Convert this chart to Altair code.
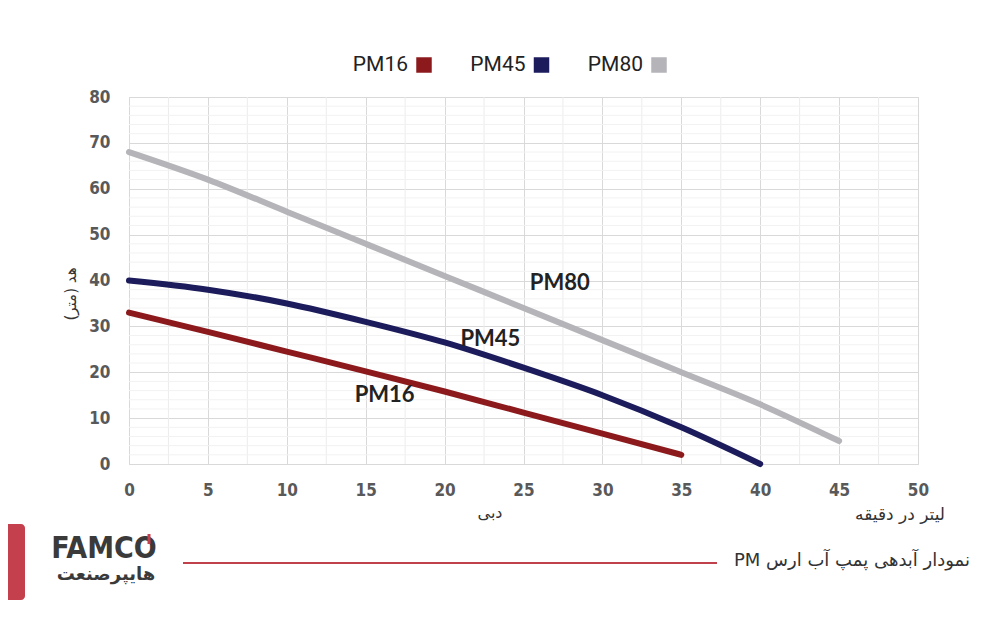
import altair as alt
import pandas as pd

# ---- data ----
series = ["PM16", "PM45", "PM80"]
colors = ["#8c1a1d", "#1c1c5c", "#b4b4b9"]

flow_pm16 = [0, 5, 10, 15, 20, 25, 30, 35]
head_pm16 = [33, 28.8, 24.5, 20.2, 15.8, 11.2, 6.6, 2]
flow_pm45 = [0, 5, 10, 15, 20, 25, 30, 35, 40]
head_pm45 = [40, 38, 35, 31, 26.5, 21, 15, 8, 0]
flow_pm80 = [0, 5, 10, 15, 20, 25, 30, 35, 40, 45]
head_pm80 = [68, 62, 55, 48, 41, 34, 27, 20, 13, 5]

label_names = ["PM16", "PM45", "PM80"]
label_x = [16.2, 22.9, 27.3]
label_y = [15.1, 27.3, 39.5]

x_ticks = list(range(0, 51, 5))
y_ticks = list(range(0, 81, 10))
minor_x = [2.5 + 5 * i for i in range(10)]
minor_y = [v for v in range(0, 81, 2) if v % 10 != 0]

x_title = "دبی"
x_unit = "لیتر در دقیقه"
y_title = "هد (متر)"
footer_title = "نمودار آبدهی پمپ آب ارس PM"
logo_main = "FAMCO"
logo_sub = "هایپرصنعت"

# ---- tables ----
rows = []
for f, h in zip(flow_pm16, head_pm16):
    rows.append({"flow": f, "head": h, "series": "PM16"})
for f, h in zip(flow_pm45, head_pm45):
    rows.append({"flow": f, "head": h, "series": "PM45"})
for f, h in zip(flow_pm80, head_pm80):
    rows.append({"flow": f, "head": h, "series": "PM80"})
df = pd.DataFrame(rows)
labels_df = pd.DataFrame({"name": label_names, "flow": label_x, "head": label_y})
minor_x_df = pd.DataFrame({"v": minor_x})
minor_y_df = pd.DataFrame({"v": minor_y})
one = pd.DataFrame({"a": [0]})

NUM_FONT = "Liberation Sans Narrow, DejaVu Sans Condensed, Arial Narrow, sans-serif"
FA_FONT = "DejaVu Sans, Noto Sans, sans-serif"
RLE, PDF = "\u202b", "\u202c"

xs = alt.Scale(domain=[0, 50], nice=False)
ys = alt.Scale(domain=[0, 80], nice=False)

minor_v = alt.Chart(minor_x_df).mark_rule(color="#ececec", strokeWidth=1).encode(
    x=alt.X("v:Q", scale=xs)
)
minor_h = alt.Chart(minor_y_df).mark_rule(color="#f2f2f2", strokeWidth=1).encode(
    y=alt.Y("v:Q", scale=ys)
)

lines = alt.Chart(df).mark_line(
    strokeWidth=6, strokeCap="round", strokeJoin="round", interpolate="monotone"
).encode(
    x=alt.X("flow:Q", scale=xs, title=None,
            axis=alt.Axis(values=x_ticks, grid=True, gridColor="#d9d9d9", domain=False,
                          ticks=False, labelPadding=18, labelFont=NUM_FONT,
                          labelFlush=False,
                          labelFontSize=17, labelFontWeight="bold", labelColor="#595959")),
    y=alt.Y("head:Q", scale=ys, title=None,
            axis=alt.Axis(values=y_ticks, grid=True, gridColor="#d9d9d9", domain=False,
                          ticks=False, labelPadding=19, labelFont=NUM_FONT,
                          labelFlush=False,
                          labelFontSize=17, labelFontWeight="bold", labelColor="#595959")),
    color=alt.Color("series:N", scale=alt.Scale(domain=series, range=colors), legend=None),
    detail="series:N",
)

curve_labels = alt.Chart(labels_df).mark_text(
    font="Lato, Open Sans, sans-serif", fontSize=22, fontWeight="bold", color="#222222"
).encode(x=alt.X("flow:Q", scale=xs), y=alt.Y("head:Q", scale=ys), text="name:N")


def txt(s, x, y, size, **kw):
    return alt.Chart(one).mark_text(fontSize=size, **kw).encode(
        x=alt.value(x), y=alt.value(y), text=alt.value(s)
    )


# legend (label to the left of its swatch, as in the reference)
legend_layers = []
for i, (s, c) in enumerate(zip(series, colors)):
    legend_layers.append(txt(s, 279 + 117.5 * i, -32, 21, font="Roboto", color="#222222",
                             align="right", baseline="middle"))
    legend_layers.append(
        alt.Chart(one).mark_square(size=240, color=c, opacity=1).encode(
            x=alt.value(295 + 117.5 * i), y=alt.value(-32)
        )
    )

x_title_m = txt(x_title, 361, 416, 16, font=FA_FONT, color="#333333")
x_unit_m = txt(x_unit, 771, 418, 17, font=FA_FONT, color="#333333")
y_title_m = txt(y_title, -58, 197, 15, font=FA_FONT, color="#333333", angle=270)

red_block = alt.Chart(one).mark_rect(color="#c4404d", cornerRadius=4).encode(
    x=alt.value(-140), x2=alt.value(-104), y=alt.value(427), y2=alt.value(503)
)
red_line = alt.Chart(one).mark_rule(color="#c0404c", strokeWidth=2).encode(
    x=alt.value(54), x2=alt.value(588), y=alt.value(466)
)
footer_t = txt(RLE + footer_title + PDF, 841, 464, 18, font=FA_FONT, color="#333333",
               align="right", baseline="middle")
logo1 = txt(logo_main, -25, 452, 30, font="DejaVu Sans Condensed, DejaVu Sans, sans-serif",
            fontWeight="bold", color="#3a3a3a")
logo_tick = alt.Chart(one).mark_rule(color="#c4404d", strokeWidth=3).encode(
    x=alt.value(20), y=alt.value(437), y2=alt.value(447)
)
logo2 = txt(logo_sub, -23, 478, 18, font=FA_FONT, fontWeight="bold", color="#3a3a3a")

chart = alt.layer(
    minor_v, minor_h, lines, curve_labels,
    x_title_m, x_unit_m, y_title_m,
    red_block, red_line, footer_t, logo1, logo_tick, logo2,
    *legend_layers,
).properties(
    width=789, height=367,
    autosize=alt.AutoSizeParams(type="none"),
    padding={"left": 121, "top": 89, "right": 74, "bottom": 148},
).configure_view(stroke=None).configure(background="white")

chart.save("out.html", embed_options={"renderer": "svg", "actions": False})
